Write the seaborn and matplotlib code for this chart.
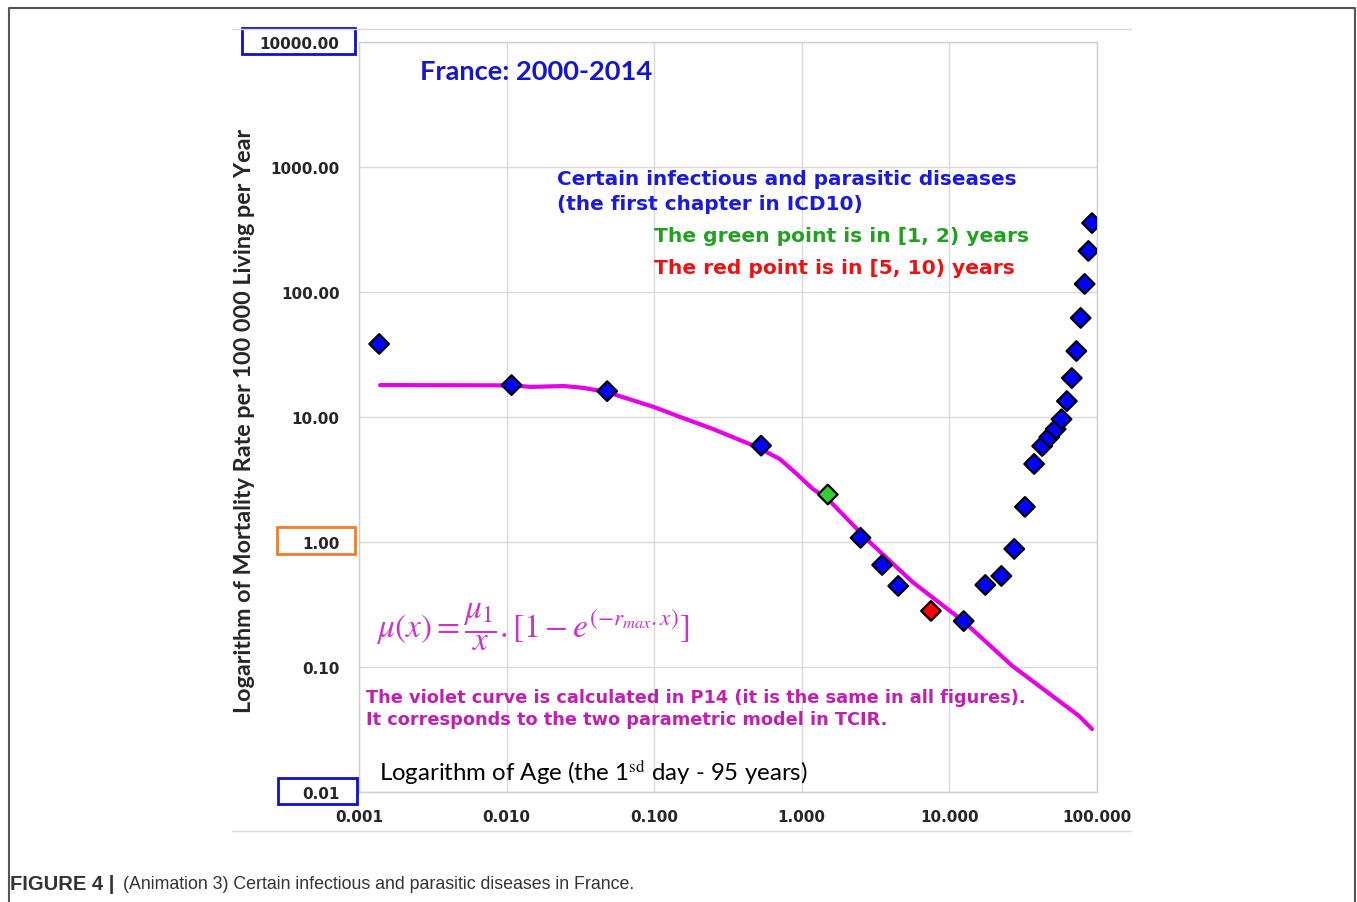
import numpy as np
import pandas as pd
import seaborn as sns
import matplotlib.pyplot as plt
from matplotlib.patches import Rectangle
from matplotlib.lines import Line2D

# observed mortality points (age in years, rate per 100 000 per year)
ages = [0.00137, 0.0108, 0.048, 0.53, 1.5, 2.5, 3.5, 4.5, 7.5, 12.5, 17.5, 22.5,
        27.5, 32.5, 37.5, 42.5, 47.5, 52.5, 57.5, 62.5, 67.5, 72.5, 77.5, 82.5,
        87.5, 92.5]
rates = [38.4, 18.0, 16.1, 5.9, 2.4, 1.08, 0.655, 0.445, 0.281, 0.233, 0.453,
         0.535, 0.88, 1.91, 4.21, 5.86, 6.9, 8.0, 9.6, 13.4, 20.5, 33.7, 62.0,
         116.0, 213.0, 356.0]
groups = ["other"] * 4 + ["green"] + ["other"] * 3 + ["red"] + ["other"] * 17

# violet model curve
curve_age = [0.00139, 0.011, 0.0145, 0.0243, 0.0331, 0.0481, 0.1, 0.15, 0.251,
             0.497, 0.71, 0.925, 1.19, 1.5, 2.88, 5.62, 12.4, 26.7, 75.5, 92.5]
curve_rate = [18.0, 17.9, 17.4, 17.7, 17.1, 15.8, 12.0, 10.0, 8.0, 5.75, 4.61,
              3.5, 2.65, 2.21, 1.0, 0.479, 0.233, 0.102, 0.0406, 0.0319]

x_ticks = [0.001, 0.01, 0.1, 1, 10, 100]
y_ticks = [0.01, 0.1, 1, 10, 100, 1000, 10000]

W, H = 1357, 903


def fx(px):
    return px / W


def fy(py):
    return 1 - py / H


points = pd.DataFrame({"age": ages, "rate": rates, "group": groups})
curve = pd.DataFrame({"age": curve_age, "rate": curve_rate})

sns.set_style("white")
plt.rcParams["font.family"] = ["DejaVu Sans"]
plt.rcParams["mathtext.fontset"] = "stix"

fig = plt.figure(figsize=(W / 100, H / 100), dpi=100)
ax = fig.add_axes([fx(359), fy(793), (1097 - 359) / W, (793 - 43) / H])

sns.lineplot(data=curve, x="age", y="rate", color="#E600E6", linewidth=3,
             estimator=None, ax=ax, zorder=2)
sns.scatterplot(data=points, x="age", y="rate", hue="group", marker="D", s=100,
                palette={"other": "#0000FF", "green": "#33CC33", "red": "#FF0000"},
                edgecolor="black", linewidth=1.6, legend=False, ax=ax, zorder=3)

ax.set_xscale("log")
ax.set_yscale("log")
ax.set_xlim(0.001, 100)
ax.set_ylim(0.01, 10000)
ax.set_xticks(x_ticks)
ax.set_xticklabels([f"{v:.3f}" for v in x_ticks], fontsize=11, fontweight="bold")
ax.set_yticks(y_ticks)
ax.set_yticklabels([f"{v:.2f}" for v in y_ticks], fontsize=11, fontweight="bold")
ax.minorticks_off()
ax.tick_params(axis="x", length=0, pad=12)
ax.tick_params(axis="y", length=0, pad=14)
ax.grid(True, color="#D9D9D9", linewidth=1)
ax.set_xlabel("")
ax.set_ylabel("")
for s in ax.spines.values():
    s.set_color("#CFCFCF")
    s.set_linewidth(1)

# boxes around some y tick labels
for (x0, y0, x1, y1, c) in [(242, 29, 355, 55, "#1010CC"),
                            (277, 528, 355, 555, "#ED7D31"),
                            (278, 779, 357, 805, "#1010CC")]:
    fig.add_artist(Rectangle((fx(x0), fy(y1)), (x1 - x0) / W, (y1 - y0) / H,
                             transform=fig.transFigure, fill=False,
                             edgecolor=c, linewidth=2))

# chart area lines and outer frame
for py in (30, 832):
    fig.add_artist(Line2D([fx(232), fx(1131)], [fy(py), fy(py)], color="#DADADA",
                          linewidth=1, transform=fig.transFigure))
fig.add_artist(Line2D([fx(9), fx(9), fx(1355), fx(1355)], [fy(910), fy(9), fy(9), fy(910)],
                      color="#555555", linewidth=1.5, transform=fig.transFigure))

fig.text(fx(245), fy(421), "Logarithm of Mortality Rate per 100 000 Living per Year",
         rotation=90, ha="center", va="center", fontsize=16.8, fontweight="bold",
         family=["Lato", "DejaVu Sans"])
fig.text(fx(420), fy(72), "France: 2000-2014", ha="left", va="center", fontsize=19.6,
         fontweight="bold", color="#1515CC", family=["Lato", "DejaVu Sans"])
fig.text(fx(557), fy(192), "Certain infectious and parasitic diseases\n(the first chapter in ICD10)",
         ha="left", va="center", fontsize=14.4, fontweight="bold", color="#1A1ADD",
         linespacing=1.45)
fig.text(fx(654), fy(237), "The green point is in [1, 2) years", ha="left", va="center",
         fontsize=14.6, fontweight="bold", color="#22A022")
fig.text(fx(654), fy(268), "The red point is in [5, 10) years", ha="left", va="center",
         fontsize=14.6, fontweight="bold", color="#EE1111")
fig.text(fx(376), fy(627), r"$\mu(x) = \dfrac{\mu_1}{x}.\left[1 - e^{(-r_{max}.x)}\right]$",
         ha="left", va="center", fontsize=24, color="#CC33CC")
fig.text(fx(366), fy(709), "The violet curve is calculated in P14 (it is the same in all figures).\n"
         "It corresponds to the two parametric model in TCIR.",
         ha="left", va="center", fontsize=12.8, fontweight="bold", color="#C020B0",
         linespacing=1.35)
fig.text(fx(379), fy(773), r"Logarithm of Age (the 1$^{\mathrm{sd}}$ day - 95 years)",
         ha="left", va="center", fontsize=17.3, color="black",
         family=["Lato", "DejaVu Sans"])

fig.text(fx(10), fy(885), "FIGURE 4 |", ha="left", va="center", fontsize=14.5,
         fontweight="bold", color="#333333", family=["Liberation Sans"])
fig.text(fx(123), fy(885), "(Animation 3) Certain infectious and parasitic diseases in France.",
         ha="left", va="center", fontsize=12.8, color="#333333",
         family=["Liberation Sans"])

fig.savefig("out.png", dpi=100)
plt.close(fig)
